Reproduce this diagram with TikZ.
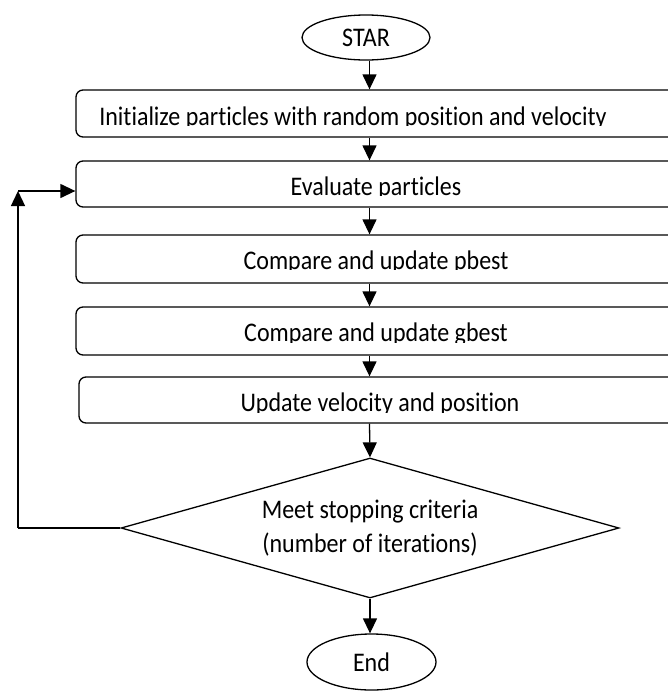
\documentclass[tikz,border=0pt]{standalone}
\usepackage{graphicx}
\usepackage{fontspec}
\setmainfont{Carlito}[Ligatures=NoCommon]
\usetikzlibrary{arrows.meta,shapes.geometric}
\newcommand{\vstretch}[1]{\scalebox{1}[1.12]{#1}}
\begin{document}
\begin{tikzpicture}[x=1pt,y=-1pt,
  line width=1.3pt,
  every node/.style={font=\fontsize{24}{34}\selectfont},
  procbox/.style={draw, rounded corners=7pt, inner sep=0pt, minimum width=624pt},
  term/.style={draw, ellipse, inner sep=0pt, minimum width=128pt},
  decide/.style={draw, diamond, aspect=3.557, inner sep=0pt, align=center, minimum width=498pt, minimum height=140pt},
  lbl/.style={anchor=base, inner sep=0pt},
  arr/.style={-{Triangle[length=15pt,width=14pt]}}
]
\useasboundingbox (0,0) rectangle (668,691);
\clip (0,0) rectangle (668,691);

\coordinate (ax) at (369.5,0);

% terminals
\node[term, minimum height=45pt] (star) at (366,37.5) {\vstretch{STAR}};
\node[term, minimum width=129pt, minimum height=56pt] (endn) at (371.5,662) {\vstretch{End}};

% process boxes
\node[procbox, minimum height=47pt] (b1) at (388,113.5) {};
\node[procbox, minimum height=46pt] (b2) at (388,184) {};
\node[procbox, minimum height=48pt] (b3) at (388,259) {};
\node[procbox, minimum height=48pt] (b4) at (388,331) {};
\node[procbox, minimum width=621pt, minimum height=46pt] (b5) at (389.5,400) {};

% box labels (descenders cut at the baseline, as printed)
\begin{scope}
  \clip (0,0) rectangle (668,125.6);
  \node[lbl] (t1) at (353,125) {\vstretch{Initialize particles with random position and velocity}};
\end{scope}
\begin{scope}
  \clip (0,140) rectangle (668,195.6);
  \node[lbl] (t2) at (376,195) {\vstretch{Evaluate particles}};
\end{scope}
\begin{scope}
  \clip (0,210) rectangle (668,269.6);
  \node[lbl] (t3) at (376,269) {\vstretch{Compare and update pbest}};
\end{scope}
\begin{scope}
  \clip (0,285) rectangle (668,342.3);
  \node[lbl] (t4) at (376,341.7) {\vstretch{Compare and update gbest}};
\end{scope}
\begin{scope}
  \clip (0,357) rectangle (668,412.3);
  \node[lbl] (t5) at (380,411.7) {\vstretch{Update velocity and position}};
\end{scope}

% decision
\node[decide] (dia) at (370,528) {\vstretch{Meet stopping criteria}\\\vstretch{(number of iterations)}};

% main flow
\draw[arr] (star.south -| ax) -- (b1.north -| ax);
\draw[arr] (b1.south -| ax) -- (b2.north -| ax);
\draw[arr] (b2.south -| ax) -- (b3.north -| ax);
\draw[arr] (b3.south -| ax) -- (b4.north -| ax);
\draw[arr] (b4.south -| ax) -- (b5.north -| ax);
\draw[arr] (b5.south -| ax) -- (dia.north);
\draw[arr] (dia.south) -- (dia.south |- endn.north);

% feedback loop
\coordinate (c1) at (18,528);
\coordinate (c2) at (18,191);
\draw (dia.west) -- (c1);
\draw[arr] (c1) -- (c2);
\draw[arr] (c2) -- (c2 -| b2.west);
\end{tikzpicture}
\end{document}
